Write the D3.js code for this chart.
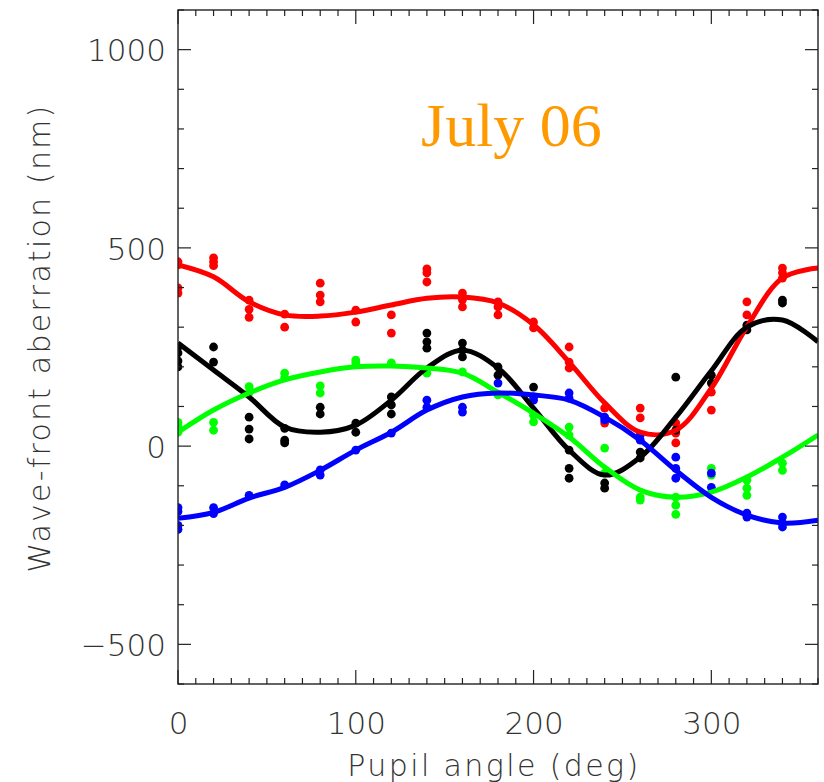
<!DOCTYPE html>
<html>
<head>
<meta charset="utf-8">
<script src="https://cdn.jsdelivr.net/npm/d3@7"></script>
<style>
  html, body { margin: 0; padding: 0; background: #fff; }
  svg { display: block; }
  .lbl { font-family: "DejaVu Sans", sans-serif; font-weight: 200; fill: #333; }
</style>
</head>
<body>
<svg id="chart" width="824" height="782"></svg>
<script>
// ---------------- data ----------------
const angles = [0,20,40,60,80,100,120,140,160,180,200,220,240,260,280,300,320,340];
const fitAngles = [0,20,40,60,80,100,120,140,160,180,200,220,240,260,280,300,320,340,360];

const redPoints = [[465,457,399,386],[475,465,455],[368,345,325],[333,300],[411,381,364],[343,313],[331,285],[447,437,414],[386,369,351],[364,351,331],[313,298],[250,212,197],[96,58],[96,71],[58,33,8],[136,91],[364,331],[449,437,424]];
const blackPoints = [[250,235,215,200],[250,212],[73,43,18],[45,15,8],[98,81],[58,35],[124,104,81],[285,263,247],[260,242,225],[200,179],[149],[-10,-56,-81],[-93,-106],[-15,-30],[174,40],[179,159],[305,293],[368,361]];
const greenPoints = [[60,50,35],[60,40],[150,135],[184,172],[152,134],[217,210],[210],[184],[187],[129],[78,61],[48,28],[-5,-68],[-129,-136],[-129,-149,-172],[-56,-73],[-86,-106,-124],[-43,-61]];
const bluePoints = [[-155,-165,-200,-210],[-155,-170],[-124],[-98],[-60,-73],[-10],[33],[116,98],[98,86],[159],[124,116],[134,121],[73,66],[28,15],[-28,-56,-81],[-68,-104],[-169,-179],[-179,-194,-204]];

const redFit   = [457,427,364,331,328,338,356,373,376,361,306,212,109,35,40,146,301,424,449];
const blackFit = [260,192,124,48,35,53,116,197,242,197,96,-10,-73,-28,73,190,300,318,263];
const greenFit = [35,91,134,167,187,200,202,197,184,136,83,23,-53,-111,-129,-116,-78,-28,28];
const blueFit  = [-182,-167,-131,-104,-61,-10,35,91,124,134,129,116,73,15,-61,-129,-174,-194,-187];

const xTicks = [0,100,200,300];
const yTicks = [-500,0,500,1000];
const title = "July 06";
const xLabel = "Pupil angle (deg)";
const yLabel = "Wave-front aberration (nm)";

const series = [
  {name:"red",   color:"#ff0000", pts:redPoints,   fit:redFit},
  {name:"black", color:"#000000", pts:blackPoints, fit:blackFit},
  {name:"green", color:"#00ff00", pts:greenPoints, fit:greenFit},
  {name:"blue",  color:"#0000ff", pts:bluePoints,  fit:blueFit}
];

// ---------------- layout ----------------
const svg = d3.select("#chart");
const L = 178, R = 818, T = 10, B = 684;
const x = d3.scaleLinear().domain([0,360]).range([L,R]);
const y = d3.scaleLinear().domain([-600,1100]).range([B,T]);

svg.append("clipPath").attr("id","clip").append("rect")
  .attr("x",L).attr("y",T).attr("width",R-L).attr("height",B-T);

const line = d3.line().x((d,i)=>x(fitAngles[i])).y(d=>y(d)).curve(d3.curveCatmullRom.alpha(0.5));

const g = svg.append("g").attr("clip-path","url(#clip)");
series.forEach(s=>{
  const flat = [];
  s.pts.forEach((arr,i)=>arr.forEach(v=>flat.push([angles[i],v])));
  g.selectAll(null).data(flat).enter().append("circle")
    .attr("cx",d=>x(d[0])).attr("cy",d=>y(d[1])).attr("r",4.4)
    .attr("fill",s.color);
});
series.forEach(s=>{
  g.append("path").datum(s.fit).attr("d",line)
    .attr("fill","none").attr("stroke",s.color).attr("stroke-width",5)
    .attr("stroke-linejoin","round");
});

// axes frame and ticks
const axColor = "#222";
const ax = svg.append("g").attr("stroke",axColor).attr("stroke-width",1.2);
d3.range(0,361,10).forEach(a=>{
  const len = (a%100===0)?14:6;
  ax.append("line").attr("x1",x(a)).attr("x2",x(a)).attr("y1",B).attr("y2",B-len);
  ax.append("line").attr("x1",x(a)).attr("x2",x(a)).attr("y1",T).attr("y2",T+len);
});
d3.range(-600,1101,100).forEach(v=>{
  const len = (v%500===0)?13:6;
  ax.append("line").attr("x1",L).attr("x2",L+len).attr("y1",y(v)).attr("y2",y(v));
  ax.append("line").attr("x1",R).attr("x2",R-len).attr("y1",y(v)).attr("y2",y(v));
});
svg.append("rect").attr("x",L).attr("y",T).attr("width",R-L).attr("height",B-T)
  .attr("fill","none").attr("stroke",axColor).attr("stroke-width",1.4);

// tick labels via axis generators
const xAxis = d3.axisBottom(x).tickValues(xTicks).tickSize(0).tickPadding(0).tickFormat(d3.format("d"));
const gx = svg.append("g").attr("transform",`translate(0,${B})`).call(xAxis);
gx.select(".domain").remove();
gx.selectAll("text").attr("class","lbl").attr("font-size",31).attr("dy",null).attr("y",50).attr("fill","#333");

const yAxis = d3.axisLeft(y).tickValues(yTicks).tickSize(0).tickPadding(0)
  .tickFormat(d=> d<0 ? "\u2212"+Math.abs(d) : String(d));
const gy = svg.append("g").attr("transform",`translate(${L-12},0)`).call(yAxis);
gy.select(".domain").remove();
gy.selectAll("text").attr("class","lbl").attr("font-size",31).attr("dy","0.36em").attr("x",0).attr("fill","#333");

// axis titles
svg.append("text").attr("class","lbl").attr("font-size",30).attr("letter-spacing","2.4px")
  .attr("x",494).attr("y",776).attr("text-anchor","middle").text(xLabel);
svg.append("text").attr("class","lbl").attr("font-size",30).attr("letter-spacing","2.2px")
  .attr("transform","translate(50,338) rotate(-90)").attr("text-anchor","middle").text(yLabel);

// title
svg.append("text").attr("x",421).attr("y",146)
  .attr("font-family","'Liberation Serif','Times New Roman',serif")
  .attr("font-size",62).attr("fill","#ff9900").text(title);
</script>
</body>
</html>
